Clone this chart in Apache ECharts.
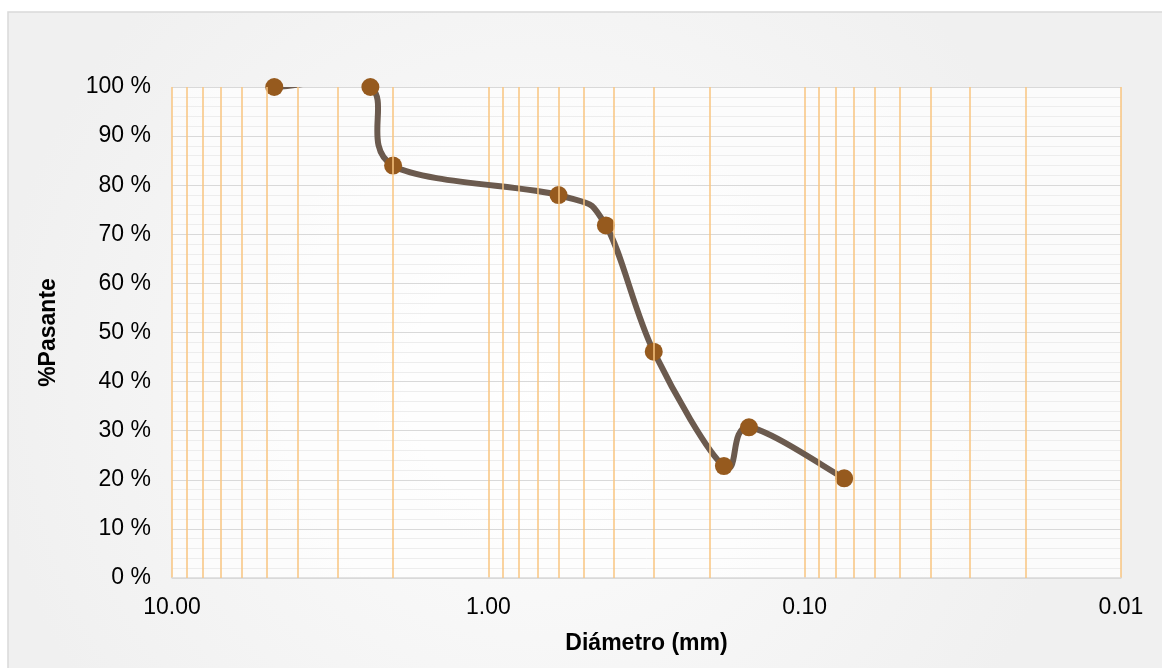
<!DOCTYPE html>
<html lang="es">
<head>
    <meta charset="UTF-8">
    <title>Curva granulométrica</title>
    <script src="https://cdn.jsdelivr.net/npm/echarts@6/dist/echarts.min.js"></script>
    <style>
        html, body { margin: 0; padding: 0; background: #ffffff; }
        #chart { width: 1162px; height: 668px; }
    </style>
</head>
<body>
<div id="chart"></div>
<script type="text/javascript">
	// datos
	var diametros = [4.75, 2.36, 2.0, 0.6, 0.425, 0.3, 0.18, 0.15, 0.075];
	var pasante = [100, 100, 84.0, 78.0, 71.8, 46.1, 22.8, 30.7, 20.3];
	// divisiones menores del eje logarítmico
	var lineasMenores = [9, 8, 7, 6, 5, 4, 3, 2, 0.9, 0.8, 0.7, 0.6, 0.5, 0.4, 0.3, 0.2, 0.09, 0.08, 0.07, 0.06, 0.05, 0.04, 0.03, 0.02];

	var puntos = [];
	for (var i = 0; i < diametros.length; i++) {
		puntos.push([diametros[i], pasante[i]]);
	}
	var marcas = [];
	for (var j = 0; j < lineasMenores.length; j++) {
		marcas.push({xAxis: lineasMenores[j]});
	}

	// curva suavizada tipo Excel (Catmull-Rom), en coordenadas de pantalla
	function curvaSuave(params, api) {
		if (params.dataIndex !== 0) return;
		var p = [];
		for (var k = 0; k < diametros.length; k++) {
			p.push(api.coord([diametros[k], pasante[k]]));
		}
		var tramos = [];
		for (var s = 0; s < p.length - 1; s++) {
			var p0 = p[s > 0 ? s - 1 : s], p1 = p[s], p2 = p[s + 1];
			var p3 = p[s + 2 < p.length ? s + 2 : s + 1];
			tramos.push({
				type: 'bezierCurve',
				shape: {
					x1: p1[0], y1: p1[1],
					cpx1: p1[0] + (p2[0] - p0[0]) / 6, cpy1: p1[1] + (p2[1] - p0[1]) / 6,
					cpx2: p2[0] - (p3[0] - p1[0]) / 6, cpy2: p2[1] - (p3[1] - p1[1]) / 6,
					x2: p2[0], y2: p2[1]
				},
				style: {fill: null, stroke: '#6b5a4e', lineWidth: 6, lineCap: 'round'}
			});
		}
		return {type: 'group', children: tramos};
	}

	var chart = echarts.init(document.getElementById('chart'));
	var option = {
		animation: false,
		textStyle: {fontFamily: 'Liberation Sans, Arial, sans-serif'},
		graphic: [{
			type: 'rect',
			z: -10,
			shape: {x: 8, y: 12, width: 1170, height: 680},
			style: {
				fill: new echarts.graphic.RadialGradient(0.45, 0.55, 0.8, [
					{offset: 0, color: '#fdfdfd'},
					{offset: 1, color: '#f0f0f0'}
				]),
				stroke: '#d9d9d9',
				lineWidth: 1.5
			}
		}],
		grid: {
			left: 172,
			right: 41,
			top: 87,
			bottom: 90,
			show: true,
			backgroundColor: 'rgba(255,255,255,0.7)',
			borderWidth: 0
		},
		xAxis: {
			type: 'log',
			logBase: 10,
			min: 0.01,
			max: 10,
			inverse: true,
			name: 'Diámetro (mm)',
			nameLocation: 'middle',
			nameGap: 54,
			nameTextStyle: {fontSize: 23, fontWeight: 'bold', color: '#000'},
			axisLine: {show: true, onZero: false, lineStyle: {color: '#d9d9d9', width: 1.5}},
			axisTick: {show: false},
			axisLabel: {
				fontSize: 23,
				color: '#000',
				margin: 18,
				formatter: function (v) { return v.toFixed(2); }
			},
			splitLine: {show: true, lineStyle: {color: '#f9c57f', width: 1.5}}
		},
		yAxis: {
			type: 'value',
			min: 0,
			max: 100,
			interval: 10,
			name: '%Pasante',
			nameLocation: 'middle',
			nameGap: 112,
			nameTextStyle: {fontSize: 23, fontWeight: 'bold', color: '#000'},
			axisLine: {show: false},
			axisTick: {show: false},
			axisLabel: {fontSize: 23, color: '#000', margin: 21, formatter: '{value} %'},
			splitLine: {show: true, lineStyle: {color: '#d9d9d9', width: 1.2}},
			minorTick: {show: false, splitNumber: 5},
			minorSplitLine: {show: true, lineStyle: {color: '#ededed', width: 1}}
		},
		series: [
			{
				type: 'line',
				data: [],
				z: 1,
				silent: true,
				markLine: {
					silent: true,
					symbol: 'none',
					label: {show: false},
					lineStyle: {color: '#f9c57f', width: 1.5, type: 'solid'},
					data: marcas
				}
			},
			{
				type: 'custom',
				z: 3,
				clip: true,
				silent: true,
				renderItem: curvaSuave,
				data: puntos
			},
			{
				name: '%Pasante',
				type: 'scatter',
				z: 4,
				data: puntos,
				symbol: 'circle',
				symbolSize: 18,
				itemStyle: {color: '#965a1e', opacity: 1}
			}
		]
	};
	chart.setOption(option);
</script>
</body>
</html>
